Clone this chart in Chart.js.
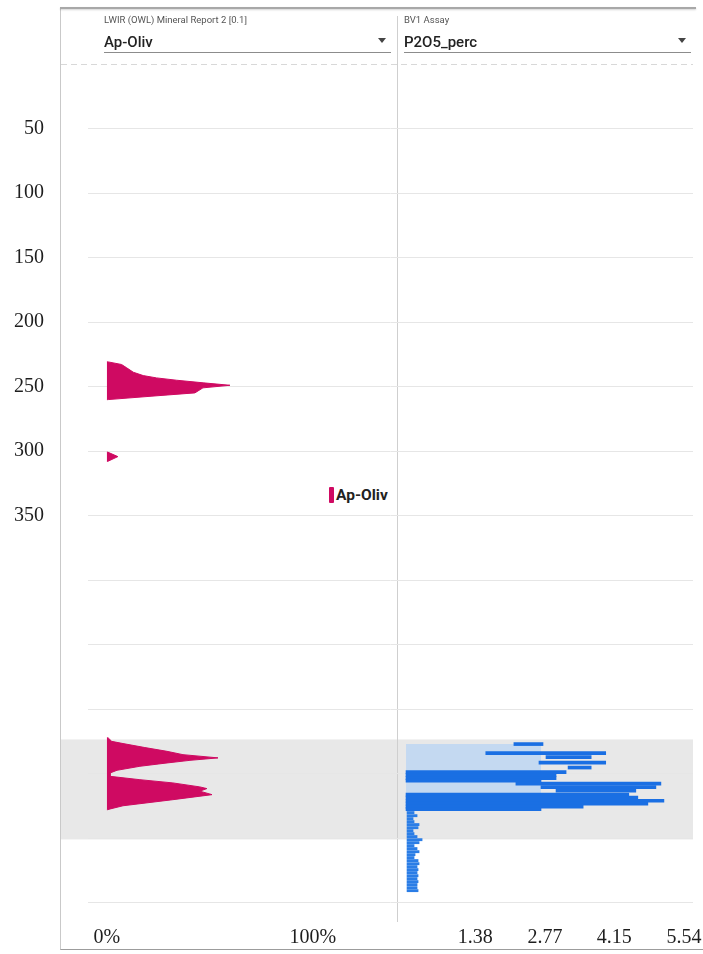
<!DOCTYPE html>
<html lang="en">
<head>
<meta charset="UTF-8">
<title>Ap-Oliv / P2O5_perc downhole log</title>
<script src="https://cdn.jsdelivr.net/npm/chart.js@4.4.0/dist/chart.umd.min.js"></script>
<style>
    body {
        margin: 0;
        background: #fff;
        font-family: Roboto, Arial, sans-serif;
    }
    .page {
        position: relative;
        width: 703px;
        height: 954px;
        overflow: hidden;
    }
    .frame {
        position: absolute;
        left: 60px;
        top: 7px;
        width: 643px;
        height: 942px;
        border-left: 1px solid #c9c9c9;
        border-bottom: 1px solid #9c9c9c;
    }
    .frame-top {
        position: absolute;
        left: 60px;
        top: 7px;
        width: 636px;
        height: 2px;
        background: #a8a8a8;
        box-shadow: 0 1px 2px rgba(0,0,0,0.18);
    }
    canvas {
        position: absolute;
        left: 0;
        top: 0;
    }
    .field {
        position: absolute;
        top: 14px;
        height: 38px;
        border-bottom: 1px solid #8c8c8c;
    }
    .field .cap {
        font-size: 9.5px;
        color: #555;
        line-height: 12px;
    }
    .field .val {
        font-size: 15px;
        font-weight: 500;
        color: #222;
        margin-top: 7px;
        line-height: 18px;
    }
    .caret {
        position: absolute;
        right: 5px;
        top: 24px;
        border-left: 4px solid transparent;
        border-right: 4px solid transparent;
        border-top: 5px solid #444;
    }
    .legend {
        position: absolute;
        left: 329px;
        top: 486px;
        background: #fff;
        display: flex;
        align-items: center;
        font-weight: 700;
        font-size: 15.5px;
        color: #222;
        line-height: 18px;
    }
    .legend i {
        display: inline-block;
        width: 5px;
        height: 16px;
        background: #cf0a62;
        border-radius: 1px;
        margin-right: 2px;
    }
</style>
</head>
<body>
<div class="page">
    <div class="frame"></div>
    <div class="frame-top"></div>
    <canvas id="log" width="703" height="954"></canvas>

    <div class="field" style="left:104px; width:287px">
        <div class="cap">LWIR (OWL) Mineral Report 2 [0.1]</div>
        <div class="val">Ap-Oliv</div>
        <span class="caret"></span>
    </div>
    <div class="field" style="left:404px; width:287px">
        <div class="cap">BV1 Assay</div>
        <div class="val">P2O5_perc</div>
        <span class="caret"></span>
    </div>

    <div class="legend" id="legend"></div>
</div>

<script>
    // depth (m) labels shown on the log, and the two panel axes
    const depthLabels = [50, 100, 150, 200, 250, 300, 350];
    const mineralTicks = [0, 100];
    const assayTicks = [1.38, 2.77, 4.15, 5.54];

    // Ap-Oliv abundance (%) down the hole, null separates the intervals
    const olivDepth = [230.8, 230.9, 232.9, 235.5, 238.9, 241.5, 243.3, 245.1, 247.1, 249.0, 251.0, 254.9, 257.5, 260.1, 260.2,
        280,
        300.8, 300.9, 304.3, 307.9, 308.0,
        400,
        522.2, 522.3, 525.0, 526.7, 529.8, 532.7, 535.3, 537.8, 539.7, 541.9, 544.3, 547.4, 549.5,
        552.1, 554.7, 557.2, 560.3, 561.6, 563.6, 566.3, 570.2, 574.9, 577.4, 577.9, 578.0];
    const olivValue = [0, 0.6, 7.1, 9.6, 12.8, 17.6, 24.1, 33.8, 46.7, 59.7, 46.6, 42.7, 21.4, 0.6, 0,
        null,
        0, 0.5, 5.3, 0.5, 0,
        null,
        0, 0.6, 2.3, 7.8, 18.4, 29.1, 36.9, 53.9, 40.3, 28.2, 16.0, 4.9, 1.5,
        1.5, 16.0, 32.0, 45.1, 48.5, 45.1, 51.0, 32.0, 7.8, 1.5, 0.5, 0];

    // P2O5_perc sample bars (depth, low, high)
    const assayDepth = [527.1, 534.1, 537.2, 541.5, 545.3, 548.8, 551.2, 553.5, 555.4, 557.8, 560.5, 563.2,
        566.3, 568.6, 571.0, 573.3, 575.6, 577.5];
    const assayFrom = [2.15, 1.59, 2.79, 2.65, 3.23, 0, 0, 0, 0, 2.19, 2.69, 2.99,
        0, 0, 0, 0, 0, 0];
    const assayTo = [2.73, 3.98, 3.69, 3.98, 3.69, 3.19, 2.99, 2.99, 2.69, 5.08, 4.98, 4.58,
        4.44, 4.62, 5.14, 4.82, 3.53, 2.69];

    // low-grade tail below the mineralised zone
    const tailDepth = [580.2, 582.6, 584.9, 587.2, 589.5, 591.9, 594.2, 596.5, 598.8, 601.2, 603.5, 605.8, 608.1,
        610.5, 612.8, 615.1, 617.4, 619.8, 622.1, 624.4, 626.7, 629.1, 631.4, 633.7, 636.0, 638.4, 640.7];
    const tailValue = [0.16, 0.22, 0.14, 0.16, 0.26, 0.24, 0.14, 0.16, 0.22, 0.32, 0.26, 0.16, 0.22,
        0.26, 0.18, 0.16, 0.24, 0.26, 0.22, 0.24, 0.22, 0.24, 0.22, 0.24, 0.22, 0.22, 0.24];

    // shaded envelope behind the assay bars
    const envelopeDepth = [527.1, 577.5];
    const envelopeValue = [2.69, 2.69];

    // highlighted interval (m)
    const selectedInterval = [523.5, 601];

    const MAGENTA = '#cf0a62';
    const BLUE = '#1a6fe3';
    const SERIF = "'Liberation Serif', 'DejaVu Serif', serif";

    const logFrame = {
        id: 'logFrame',
        beforeDraw(chart) {
            const {ctx, chartArea, scales} = chart;
            const y = scales.y;
            const divX = Math.round(scales.xR.left) + 0.5;
            ctx.save();

            const top = y.getPixelForValue(selectedInterval[0]);
            const bottom = y.getPixelForValue(selectedInterval[1]);
            ctx.fillStyle = '#e8e8e8';
            ctx.fillRect(61, top, chartArea.right - 61, bottom - top);

            const collar = Math.round(y.getPixelForValue(0)) + 0.5;
            ctx.strokeStyle = '#d8d8d8';
            ctx.lineWidth = 1;
            ctx.setLineDash([6, 4]);
            ctx.beginPath();
            ctx.moveTo(61, collar);
            ctx.lineTo(chartArea.right, collar);
            ctx.stroke();
            ctx.setLineDash([]);

            ctx.strokeStyle = '#cfcfcf';
            ctx.beginPath();
            ctx.moveTo(divX, 16);
            ctx.lineTo(divX, chartArea.bottom);
            ctx.stroke();
            ctx.restore();
        }
    };

    // keep axis label overhang out of the layout so the plot keeps its fixed frame
    function fixHeight(scale) {
        scale.height = 32;
        scale.paddingLeft = 0;
        scale.paddingRight = 0;
    }

    const chart = new Chart(document.getElementById('log'), {
        type: 'line',
        data: {
            datasets: [
                {
                    type: 'bar',
                    label: 'P2O5_perc',
                    data: assayDepth.map((d, i) => ({y: d, x: [assayFrom[i], assayTo[i]]})),
                    xAxisID: 'xR',
                    backgroundColor: BLUE,
                    barThickness: 3,
                    grouped: false
                },
                {
                    type: 'bar',
                    label: 'P2O5_perc tail',
                    data: tailDepth.map((d, i) => ({y: d, x: [0.02, tailValue[i]]})),
                    xAxisID: 'xR',
                    backgroundColor: '#2a7de6',
                    barThickness: 2.2,
                    grouped: false
                },
                {
                    label: 'Ap-Oliv',
                    data: olivDepth.map((d, i) => ({y: d, x: olivValue[i]})),
                    xAxisID: 'xL',
                    borderColor: MAGENTA,
                    backgroundColor: MAGENTA,
                    borderWidth: 1,
                    fill: 'origin',
                    pointRadius: 0,
                    tension: 0
                },
                {
                    label: 'P2O5_perc envelope',
                    data: envelopeDepth.map((d, i) => ({y: d, x: envelopeValue[i]})),
                    xAxisID: 'xR',
                    borderColor: 'transparent',
                    borderWidth: 0,
                    backgroundColor: '#c4d9f1',
                    fill: 'origin',
                    pointRadius: 0
                }
            ]
        },
        options: {
            indexAxis: 'y',
            responsive: false,
            animation: false,
            layout: {padding: {top: 64, right: 10, bottom: 0, left: 0}},
            plugins: {
                legend: {display: false},
                tooltip: {enabled: false}
            },
            scales: {
                y: {
                    type: 'linear',
                    position: 'left',
                    reverse: true,
                    offset: false,
                    min: 0,
                    max: 665,
                    afterFit: (scale) => {
                        scale.width = 88;
                        scale.paddingTop = 0;
                        scale.paddingBottom = 0;
                    },
                    border: {display: false},
                    grid: {
                        offset: false,
                        drawTicks: false,
                        color: (c) => (c.tick && c.tick.value === 0) ? 'transparent' : '#e6e6e6'
                    },
                    ticks: {
                        stepSize: 50,
                        includeBounds: false,
                        padding: 44,
                        color: '#1e1e1e',
                        font: {family: SERIF, size: 20},
                        callback: (v) => depthLabels.includes(v) ? String(v) : ''
                    }
                },
                xL: {
                    type: 'linear',
                    position: 'bottom',
                    stack: 'panels',
                    stackWeight: 309,
                    min: -9.2,
                    max: 140.8,
                    afterFit: fixHeight,
                    afterBuildTicks: (scale) => { scale.ticks = mineralTicks.map(v => ({value: v})); },
                    border: {display: false},
                    grid: {display: false, drawTicks: false},
                    ticks: {
                        autoSkip: false,
                        maxRotation: 0,
                        padding: 4,
                        color: '#1e1e1e',
                        font: {family: SERIF, size: 20},
                        callback: (v) => v + '%'
                    }
                },
                xR: {
                    type: 'linear',
                    position: 'bottom',
                    stack: 'panels',
                    stackWeight: 296,
                    min: -0.18,
                    max: 5.72,
                    afterFit: fixHeight,
                    afterBuildTicks: (scale) => { scale.ticks = assayTicks.map(v => ({value: v})); },
                    border: {display: false},
                    grid: {display: false, drawTicks: false},
                    ticks: {
                        autoSkip: false,
                        maxRotation: 0,
                        padding: 4,
                        color: '#1e1e1e',
                        font: {family: SERIF, size: 20},
                        callback: (v) => v.toFixed(2)
                    }
                }
            }
        },
        plugins: [logFrame]
    });

    // small key for the mineral trace
    const oliv = chart.data.datasets[2];
    document.getElementById('legend').innerHTML = '<i></i>' + oliv.label;
</script>
</body>
</html>
